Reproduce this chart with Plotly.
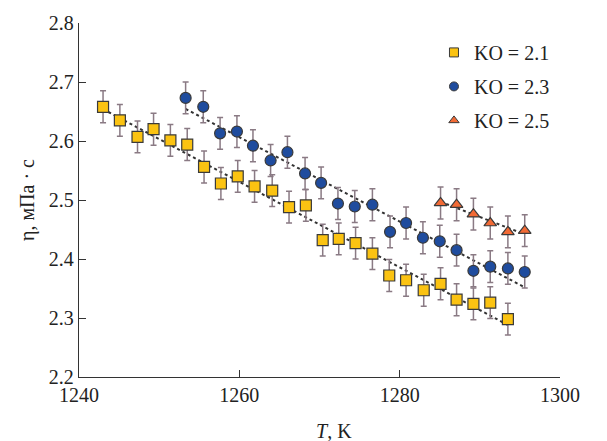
import numpy as np
import plotly.graph_objects as go

# ---- data ----
t_21 = [1243.0, 1245.1, 1247.3, 1249.3, 1251.4, 1253.5, 1255.6, 1257.7, 1259.8, 1261.9,
        1264.1, 1266.2, 1268.3, 1270.4, 1272.4, 1274.5, 1276.6, 1278.7, 1280.8, 1283.0,
        1285.1, 1287.1, 1289.2, 1291.3, 1293.5]
eta_21 = [2.658, 2.635, 2.607, 2.620, 2.601, 2.594, 2.556, 2.528, 2.540, 2.523,
          2.516, 2.488, 2.491, 2.432, 2.434, 2.427, 2.409, 2.372, 2.364, 2.347,
          2.358, 2.331, 2.324, 2.326, 2.298]

t_23 = [1253.3, 1255.5, 1257.6, 1259.7, 1261.7, 1263.9, 1266.0, 1268.2, 1270.2, 1272.3,
        1274.4, 1276.6, 1278.8, 1280.8, 1282.9, 1285.0, 1287.1, 1289.2, 1291.3, 1293.5,
        1295.6]
eta_23 = [2.673, 2.658, 2.613, 2.616, 2.592, 2.567, 2.581, 2.545, 2.529, 2.494,
          2.489, 2.492, 2.446, 2.461, 2.436, 2.430, 2.415, 2.380, 2.387, 2.384,
          2.378]

t_25 = [1285.1, 1287.1, 1289.2, 1291.3, 1293.5, 1295.6]
eta_25 = [2.495, 2.492, 2.476, 2.461, 2.446, 2.448]

err = 0.027
names = ["KO = 2.1", "KO = 2.3", "KO = 2.5"]
x_ticks = [1240, 1260, 1280, 1300]
y_ticks = [2.2, 2.3, 2.4, 2.5, 2.6, 2.7, 2.8]

series = [
    (t_21, eta_21, "square", "#FBC312", names[0]),
    (t_23, eta_23, "circle", "#1F4C9E", names[1]),
    (t_25, eta_25, "triangle-up", "#F26A35", names[2]),
]

FONT = "Liberation Serif, Times New Roman, serif"
fig = go.Figure()

# trend lines
for t, e, sym, col, nm in series:
    k, b = np.polyfit(t, e, 1)
    xs = np.array([min(t), max(t)])
    fig.add_trace(go.Scatter(x=xs, y=k * xs + b, mode="lines",
                             line=dict(color="#333333", width=2, dash="dot"),
                             showlegend=False, hoverinfo="skip"))

# data points
for i, (t, e, sym, col, nm) in enumerate(series):
    fig.add_trace(go.Scatter(
        x=t, y=e, mode="markers", showlegend=False,
        marker=dict(symbol=sym, size=11, color=col, line=dict(color="#3a3a3a", width=1.2)),
        error_y=dict(type="constant", value=err, color="#8a7a84", thickness=1.5, width=3),
    ))
    # legend entries
    fig.add_trace(go.Scatter(
        x=[None], y=[None], mode="markers", name=nm, legendgroup=f"g{i}",
        marker=dict(symbol=sym, size=9, color=col, line=dict(color="#3a3a3a", width=1)),
    ))

axis_common = dict(showline=True, linecolor="#333333", linewidth=1.3, ticks="inside",
                   ticklen=7, tickcolor="#333333", tickwidth=1.2, showgrid=False,
                   zeroline=False, tickfont=dict(family=FONT, size=20, color="#222222"))

fig.update_layout(
    width=607, height=441,
    margin=dict(l=79, r=47, t=21, b=64),
    paper_bgcolor="white", plot_bgcolor="white",
    font=dict(family=FONT, size=20, color="#222222"),
    xaxis=dict(range=[1240, 1300], tickvals=x_ticks, ticktext=[str(v) for v in x_ticks],
               **axis_common),
    yaxis=dict(range=[2.2, 2.8], tickvals=y_ticks, ticktext=[f"{v:.1f}" for v in y_ticks],
               title=dict(text="η, мПа · с", font=dict(family=FONT, size=20), standoff=8),
               **axis_common),
    legend=dict(x=0.738, y=0.972, xanchor="left", yanchor="top",
                font=dict(family=FONT, size=20, color="#222222"),
                bgcolor="rgba(0,0,0,0)", itemwidth=30, tracegroupgap=5,
                traceorder="grouped"),
)

fig.add_annotation(text="<i>T</i>, K", xref="paper", yref="paper",
                   x=0.530, y=-0.152, xanchor="center", yanchor="middle",
                   showarrow=False, font=dict(family=FONT, size=20, color="#222222"))

fig.write_html("out.html")
